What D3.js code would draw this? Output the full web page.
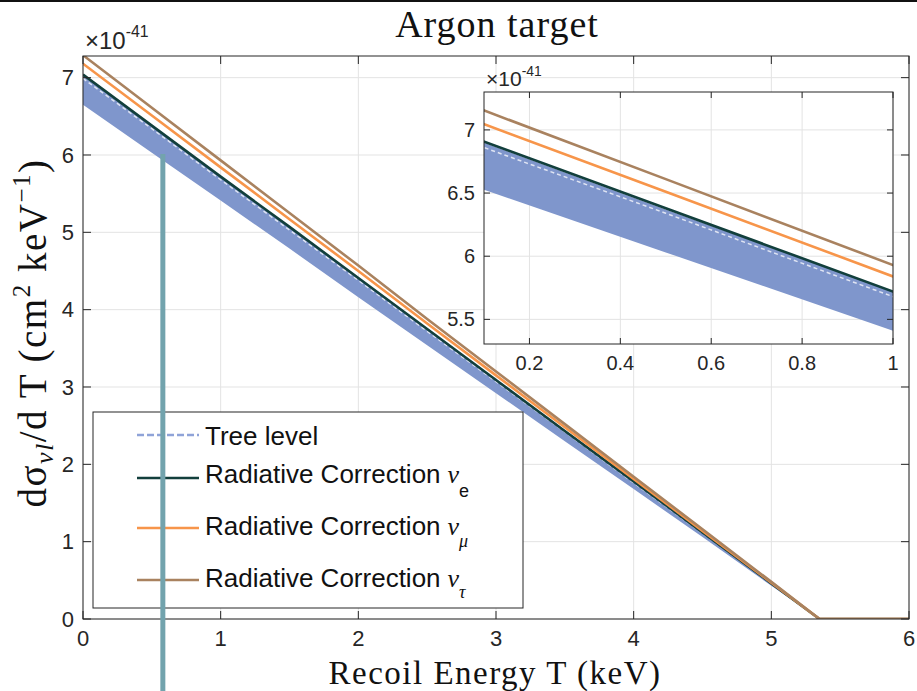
<!DOCTYPE html>
<html>
<head>
<meta charset="utf-8">
<script src="https://cdn.jsdelivr.net/npm/d3@7"></script>
<style>
  body { margin: 0; background: #fff; }
  svg { display: block; }
</style>
</head>
<body>
<div id="chart"></div>
<script>
// recoil energy T (keV) and cross sections (x 1e-41 cm^2 keV^-1)
var energy     = [0, 0.5, 1, 1.5, 2, 2.5, 3, 3.5, 4, 4.5, 5, 5.35, 6];
var treeLow    = [6.65, 6.03, 5.41, 4.79, 4.16, 3.54, 2.92, 2.30, 1.68, 1.06, 0.43, 0, 0];
var treeHigh   = [7.03, 6.37, 5.72, 5.06, 4.40, 3.74, 3.09, 2.43, 1.77, 1.12, 0.46, 0, 0];
var treeLevel  = [6.99, 6.34, 5.68, 5.03, 4.38, 3.72, 3.07, 2.42, 1.76, 1.11, 0.46, 0, 0];
var radNuE     = [7.04, 6.38, 5.72, 5.07, 4.41, 3.75, 3.09, 2.43, 1.78, 1.12, 0.46, 0, 0];
var radNuMu    = [7.18, 6.51, 5.84, 5.17, 4.50, 3.82, 3.15, 2.48, 1.81, 1.14, 0.47, 0, 0];
var radNuTau   = [7.29, 6.61, 5.93, 5.25, 4.57, 3.88, 3.20, 2.52, 1.84, 1.16, 0.48, 0, 0];

var mainXTicks  = [0, 1, 2, 3, 4, 5, 6];
var mainYTicks  = [0, 1, 2, 3, 4, 5, 6, 7];
var insetXTicks = [0.2, 0.4, 0.6, 0.8, 1];
var insetYTicks = [5.5, 6, 6.5, 7];

var series = [
  { name: "Radiative Correction", sub: "e",  values: radNuE,   color: "#123f3c" },
  { name: "Radiative Correction", sub: "μ", values: radNuMu,  color: "#f7954a" },
  { name: "Radiative Correction", sub: "τ", values: radNuTau, color: "#a9825f" }
];

var W = 917, H = 691;
var svg = d3.select("#chart").append("svg").attr("width", W).attr("height", H);
var defs = svg.append("defs");

var axisColor = "#262626", gridColor = "#e3e3e3", bandColor = "#7f96cc";
var sans = "'Liberation Sans', Arial, sans-serif";
var serif = "'Liberation Serif', 'DejaVu Serif', serif";

svg.append("rect").attr("x", 0).attr("y", 0).attr("width", W).attr("height", 2).attr("fill", "#111");

function drawPanel(g, x, y, opts) {
  var x0 = x.range()[0], x1 = x.range()[1], y0 = y.range()[0], y1 = y.range()[1];
  g.append("rect").attr("x", x0).attr("y", y1).attr("width", x1 - x0).attr("height", y0 - y1).attr("fill", "#fff");

  // grid
  g.selectAll(".gx").data(opts.xTicks).enter().append("line")
    .attr("x1", x).attr("x2", x).attr("y1", y0).attr("y2", y1)
    .attr("stroke", gridColor).attr("stroke-width", 1);
  g.selectAll(".gy").data(opts.yTicks).enter().append("line")
    .attr("y1", y).attr("y2", y).attr("x1", x0).attr("x2", x1)
    .attr("stroke", gridColor).attr("stroke-width", 1);

  var clipId = "clip" + opts.id;
  defs.append("clipPath").attr("id", clipId).append("rect")
    .attr("x", x0).attr("y", y1).attr("width", x1 - x0).attr("height", y0 - y1);
  var plot = g.append("g").attr("clip-path", "url(#" + clipId + ")");

  var area = d3.area().x(function (d, i) { return x(energy[i]); })
    .y0(function (d, i) { return y(treeLow[i]); })
    .y1(function (d, i) { return y(treeHigh[i]); });
  plot.append("path").datum(energy).attr("d", area).attr("fill", bandColor);

  var line = d3.line().x(function (d, i) { return x(energy[i]); }).y(function (d) { return y(d); });
  plot.append("path").datum(treeLevel).attr("d", line).attr("fill", "none")
    .attr("stroke", "#dfe4f3").attr("stroke-width", 1.5).attr("stroke-dasharray", "4,3");
  series.forEach(function (s) {
    plot.append("path").datum(s.values).attr("d", line).attr("fill", "none")
      .attr("stroke", s.color).attr("stroke-width", 2.6);
  });

  // box + ticks inside
  var tl = opts.tickLen;
  var ax = g.append("g").attr("stroke", axisColor).attr("stroke-width", 1);
  ax.append("rect").attr("x", x0).attr("y", y1).attr("width", x1 - x0).attr("height", y0 - y1)
    .attr("fill", "none");
  opts.xTicks.forEach(function (t) {
    ax.append("line").attr("x1", x(t)).attr("x2", x(t)).attr("y1", y0).attr("y2", y0 - tl);
    ax.append("line").attr("x1", x(t)).attr("x2", x(t)).attr("y1", y1).attr("y2", y1 + tl);
  });
  opts.yTicks.forEach(function (t) {
    ax.append("line").attr("y1", y(t)).attr("y2", y(t)).attr("x1", x0).attr("x2", x0 + tl);
    ax.append("line").attr("y1", y(t)).attr("y2", y(t)).attr("x1", x1).attr("x2", x1 - tl);
  });

  g.selectAll(".xl").data(opts.xTicks).enter().append("text")
    .attr("x", x).attr("y", y0 + opts.fs + opts.xlGap)
    .attr("text-anchor", "middle").attr("font-family", sans).attr("font-size", opts.fs)
    .attr("fill", axisColor).text(function (d) { return d; });
  g.selectAll(".yl").data(opts.yTicks).enter().append("text")
    .attr("x", x0 - 9).attr("y", y).attr("dy", "0.35em")
    .attr("text-anchor", "end").attr("font-family", sans).attr("font-size", opts.fs)
    .attr("fill", axisColor).text(function (d) { return d; });

  // exponent
  var ex = g.append("text").attr("x", x0 + 2).attr("y", y1 - opts.expGap)
    .attr("font-family", sans).attr("font-size", opts.expFs).attr("fill", axisColor);
  ex.append("tspan").text("×10");
  ex.append("tspan").attr("font-size", opts.expFs * 0.66).attr("dy", -opts.expFs * 0.5).text("-41");
}

// main axes
var xMain = d3.scaleLinear().domain([0, 6]).range([83, 909]);
var yMain = d3.scaleLinear().domain([0, 7.28]).range([619, 56]);
drawPanel(svg.append("g"), xMain, yMain, { id: "main", xTicks: mainXTicks, yTicks: mainYTicks, fs: 22, tickLen: 8, expFs: 24, expGap: 7, xlGap: 5 });

// inset
var xIn = d3.scaleLinear().domain([0.1, 1]).range([484, 893]);
var yIn = d3.scaleLinear().domain([5.305, 7.3]).range([344, 92]);
drawPanel(svg.append("g"), xIn, yIn, { id: "inset", xTicks: insetXTicks, yTicks: insetYTicks, fs: 20, tickLen: 6, expFs: 21, expGap: 6, xlGap: 6 });

// title and labels
svg.append("text").attr("x", 497).attr("y", 37).attr("text-anchor", "middle")
  .attr("font-family", serif).attr("font-size", 38).attr("letter-spacing", 1).attr("fill", "#111")
  .text("Argon target");

svg.append("text").attr("x", 495).attr("y", 684).attr("text-anchor", "middle")
  .attr("font-family", serif).attr("font-size", 33).attr("letter-spacing", 1.5).attr("fill", "#111")
  .text("Recoil Energy T (keV)");

var yl = svg.append("text").attr("transform", "translate(46,333) rotate(-90)")
  .attr("text-anchor", "middle").attr("font-family", serif).attr("font-size", 39)
  .attr("letter-spacing", 1.5).attr("fill", "#111");
yl.append("tspan").text("dσ");
yl.append("tspan").attr("font-size", 26).attr("dy", 7).attr("font-style", "italic").text("νl");
yl.append("tspan").attr("dy", -7).text("/d T (cm");
yl.append("tspan").attr("font-size", 25).attr("dy", -16).text("2");
yl.append("tspan").attr("dy", 16).text(" keV");
yl.append("tspan").attr("font-size", 25).attr("dy", -16).text("−1");
yl.append("tspan").attr("dy", 16).text(")");

// legend
var lg = svg.append("g");
lg.append("rect").attr("x", 93).attr("y", 412).attr("width", 430).attr("height", 196)
  .attr("fill", "#fff").attr("stroke", axisColor).attr("stroke-width", 1);
var legendRows = [{ label: "Tree level", color: "#8fa3d8", dash: "7,3", sub: null }].concat(
  series.map(function (s) { return { label: s.name, color: s.color, dash: null, sub: s.sub }; }));
var lineY = [435, 478, 528, 580], textY = [445, 483, 535, 587], subDy = [0, 14, 12, 11];
legendRows.forEach(function (r, i) {
  lg.append("line").attr("x1", 137).attr("x2", 199).attr("y1", lineY[i]).attr("y2", lineY[i])
    .attr("stroke", r.color).attr("stroke-width", 2.6).attr("stroke-dasharray", r.dash);
  var t = lg.append("text").attr("x", 205).attr("y", textY[i])
    .attr("font-family", sans).attr("font-size", 26).attr("fill", "#111").text(r.label);
  if (r.sub) {
    t.append("tspan").attr("font-family", serif).attr("font-style", "italic").attr("dx", 7).text("ν");
    t.append("tspan").attr("font-size", 18).attr("dy", subDy[i])
      .attr("font-family", r.sub === "e" ? sans : serif)
      .attr("font-style", r.sub === "e" ? "normal" : "italic").text(r.sub);
  }
});

// vertical marker line
svg.append("line").attr("x1", xMain(0.58)).attr("x2", xMain(0.58)).attr("y1", 154).attr("y2", H)
  .attr("stroke", "#72a3ad").attr("stroke-width", 5);
</script>
</body>
</html>
